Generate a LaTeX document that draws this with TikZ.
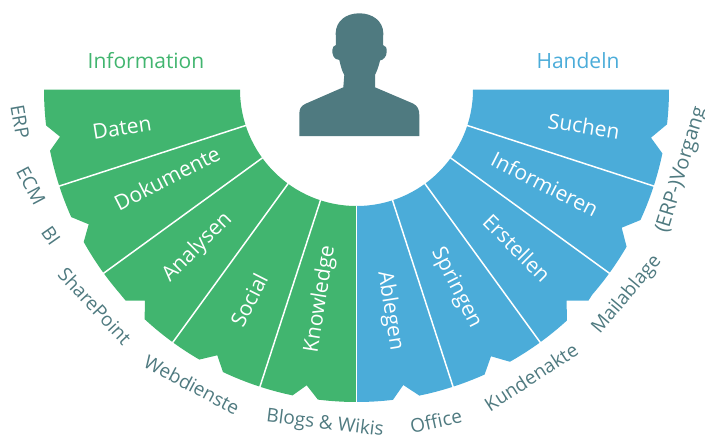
\documentclass[tikz,border=0pt]{standalone}
\usepackage{fontspec}
\setmainfont{Open Sans}
\usetikzlibrary{calc}
\definecolor{fangreen}{HTML}{41B56F}
\definecolor{fanblue}{HTML}{4BACD9}
\definecolor{slate}{HTML}{4F7A80}
\tikzset{
  fan/.style={line width=0pt},
  sep/.style={draw=white,line width=1.5pt},
  inner/.style={text=white,font=\fontsize{21}{21}\selectfont,inner sep=0pt},
  outer/.style={text=slate,font=\fontsize{19}{19}\selectfont,inner sep=0pt},
  headl/.style={font=\fontsize{21}{21}\selectfont,inner sep=0pt}
}
\begin{document}
\begin{tikzpicture}[x=1pt,y=1pt]
\useasboundingbox (0,0) rectangle (705,-439);
\coordinate (c) at (356.5,-89.5);
% green half
\fill[fangreen,fan] ([shift={(c)}]180:312.5)
  arc[start angle=180,end angle=186.6,radius=312.5] -- (60,-136.7)
  -- ([shift={(c)}]191.3:312.5) arc[start angle=191.3,end angle=204.1,radius=312.5] -- (88.7,-224.3)
  -- ([shift={(c)}]209.2:312.5) arc[start angle=209.2,end angle=220.7,radius=312.5] -- (125.7,-300.7) -- (145,-300.7)
  -- ([shift={(c)}]227.3:312.5) arc[start angle=227.3,end angle=239.8,radius=312.5] -- (217.3,-355.3)
  -- ([shift={(c)}]244.7:312.5) arc[start angle=244.7,end angle=258.2,radius=312.5] -- (306.7,-385.3)
  -- ([shift={(c)}]262.9:312.5) arc[start angle=262.9,end angle=270,radius=312.5]
  -- ([shift={(c)}]270:116.5) arc[start angle=270,end angle=180,radius=116.5] -- cycle;
% blue half
\fill[fanblue,fan] ([shift={(c)}]0:312.5)
  arc[start angle=0,end angle=-6.4,radius=312.5] -- (651,-137.7)
  -- ([shift={(c)}]-11.8:312.5) arc[start angle=-11.8,end angle=-24.7,radius=312.5] -- (621.7,-227.7)
  -- ([shift={(c)}]-30.2:312.5) arc[start angle=-30.2,end angle=-41,radius=312.5] -- (588.5,-300.5) -- (566.7,-300.5)
  -- ([shift={(c)}]-47.7:312.5) arc[start angle=-47.7,end angle=-60.6,radius=312.5] -- (491,-356.3)
  -- ([shift={(c)}]-65.8:312.5) arc[start angle=-65.8,end angle=-78.4,radius=312.5] -- (403.3,-385)
  -- ([shift={(c)}]-83.3:312.5) arc[start angle=-83.3,end angle=-90,radius=312.5]
  -- ([shift={(c)}]-90:116.5) arc[start angle=-90,end angle=0,radius=116.5] -- cycle;
% separators
\foreach \a in {198,216,234,252,270,288,306,324,342}
  \draw[sep] ([shift={(c)}]\a:116) -- ([shift={(c)}]\a:313.5);
% person
\fill[slate] (299.3,-136) -- (299.3,-115)
  .. controls (299.3,-109) and (300.5,-106.5) .. (305,-104)
  -- (343.3,-87.3) -- (344.3,-75)
  .. controls (341.5,-70) and (340.5,-65) .. (339.3,-60)
  .. controls (333,-59.5) and (332.3,-54) .. (332.3,-50)
  .. controls (332.3,-47) and (334,-45.5) .. (336,-45)
  -- (335.7,-33)
  .. controls (336,-21) and (346,-13.3) .. (359.3,-13.3)
  .. controls (372.5,-13.3) and (383,-21) .. (383.3,-33)
  -- (383,-45)
  .. controls (386,-45.5) and (386.7,-48) .. (386.7,-51.7)
  .. controls (386.7,-57) and (383,-60) .. (380,-60.5)
  .. controls (379,-65) and (377.5,-70) .. (375,-75)
  -- (375,-87.3) -- (413,-103.5)
  .. controls (418,-106) and (419.3,-110) .. (419.3,-115)
  -- (419.3,-136) -- cycle;
% headings
\node[headl,text=fangreen] (hinfo) at (146,-61) {Information};
\node[headl,text=fanblue] (hhand) at (578,-61) {Handeln};
% inner labels
\node[inner,rotate=9] (daten) at (122,-127.5) {Daten};
\node[inner,rotate=27] (doku) at (167,-178) {Dokumente};
\node[inner,rotate=45] (analysen) at (197.5,-247.5) {Analysen};
\node[inner,rotate=63] (social) at (249,-300) {Social};
\node[inner,rotate=81] (know) at (320.5,-299) {Knowledge};
\node[inner,rotate=-9] (suchen) at (584,-126) {Suchen};
\node[inner,rotate=-27] (inform) at (545,-184) {Informieren};
\node[inner,rotate=-45] (erst) at (517,-248) {Erstellen};
\node[inner,rotate=-63] (spring) at (456,-288) {Springen};
\node[inner,rotate=-81] (ablegen) at (390,-311) {Ablegen};
% outer labels
\node[outer,rotate=-80] (o1) at (20,-122) {ERP};
\node[outer,rotate=-62] (o2) at (31,-186) {ECM};
\node[outer,rotate=-55] (o3) at (51,-236) {BI};
\node[outer,rotate=-47] (o4) at (95,-306) {SharePoint};
\node[outer,rotate=-28] (o5) at (192,-385) {Webdienste};
\node[outer,rotate=-7] (o6) at (325,-424) {Blogs \& Wikis};
\node[outer,rotate=12] (o7) at (436,-421) {Office};
\node[outer,rotate=33] (o8) at (531,-377) {Kundenakte};
\node[outer,rotate=50] (o9) at (627,-295) {Mailablage};
\node[outer,rotate=73,font=\fontsize{20}{20}\selectfont] (o10) at (682,-170) {(ERP-)Vorgang};
\end{tikzpicture}
\end{document}
